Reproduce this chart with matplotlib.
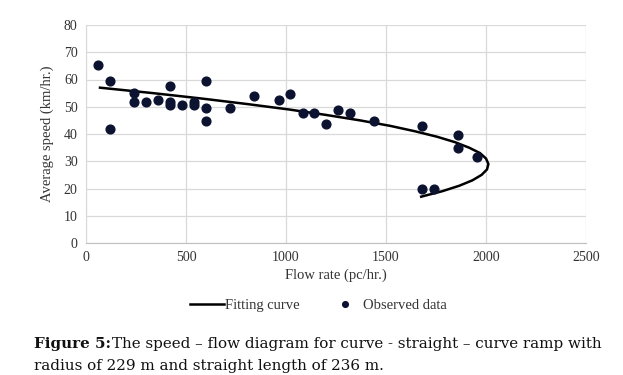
import numpy as np
import matplotlib.pyplot as plt

# observed data (flow pc/hr, speed km/hr)
obs_flow = [60, 120, 120, 240, 240, 300, 360, 420, 420, 420, 480, 540, 540,
            600, 600, 600, 720, 840, 965, 1020, 1085, 1140, 1200, 1260, 1320,
            1440, 1680, 1860, 1860, 1955, 1680, 1740]
obs_speed = [65.3, 59.6, 41.8, 55.2, 51.8, 51.8, 52.3, 57.6, 51.8, 50.8, 50.8,
             51.6, 50.8, 59.6, 49.5, 44.8, 49.7, 53.8, 52.3, 54.8, 47.6, 47.6,
             43.8, 48.8, 47.6, 44.9, 42.8, 39.8, 34.8, 31.6, 19.8, 19.8]

# fitting curve
fit_speed = [57, 55, 53, 51, 49, 47, 45, 43, 41, 39, 37, 35, 33, 31, 29, 27,
             25, 23, 21, 19, 17]
fit_flow = [70, 335, 580, 805, 1015, 1200, 1370, 1520, 1645, 1755, 1845, 1915,
            1970, 2000, 2012, 2005, 1978, 1932, 1866, 1781, 1676]

plt.rcParams['font.family'] = ['Liberation Serif', 'DejaVu Serif']

fig = plt.figure(figsize=(6.23, 3.75), dpi=100)
ax = fig.add_axes([86/623, 1-243/375, 500/623, 218/375])

ax.plot(fit_flow, fit_speed, color='black', lw=1.8, label='Fitting curve')
ax.plot(obs_flow, obs_speed, 'o', color='#0b1330', ms=6.3, ls='none',
        label='Observed data')

ax.set_xlim(0, 2500)
ax.set_ylim(0, 80)
ax.set_xticks(np.arange(0, 2501, 500))
ax.set_yticks(np.arange(0, 81, 10))
ax.grid(True, color='#d9d9d9', lw=0.9)
ax.set_axisbelow(True)
for s in ['top', 'right']:
    ax.spines[s].set_visible(False)
ax.spines['left'].set_color('#d9d9d9')
ax.spines['bottom'].set_color('#bfbfbf')
ax.tick_params(length=0, labelsize=10, pad=6, colors='#333333')
ax.set_xlabel('Flow rate (pc/hr.)', fontsize=10.5, color='#333333', labelpad=3)
ax.set_ylabel('Average speed (km/hr.)', fontsize=10.5, color='#333333', labelpad=7)

ax.legend(loc='upper center', bbox_to_anchor=(0.465, -0.195), ncol=2, frameon=False,
          fontsize=10.5, handlelength=2.3, handletextpad=0.1, columnspacing=1.9,
          markerscale=0.65, labelcolor='#333333')

cap = dict(fontsize=10.9, va='center', family=['DejaVu Serif'], color='#111111')
fig.text(34/623, 1-344/375, 'Figure 5:', fontweight='bold', **cap)
fig.text(112/623, 1-344/375,
         'The speed \u2013 flow diagram for curve - straight \u2013 curve ramp with',
         **cap)
fig.text(34/623, 1-366/375, 'radius of 229 m and straight length of 236 m.', **cap)

fig.savefig('out.png', dpi=100)
